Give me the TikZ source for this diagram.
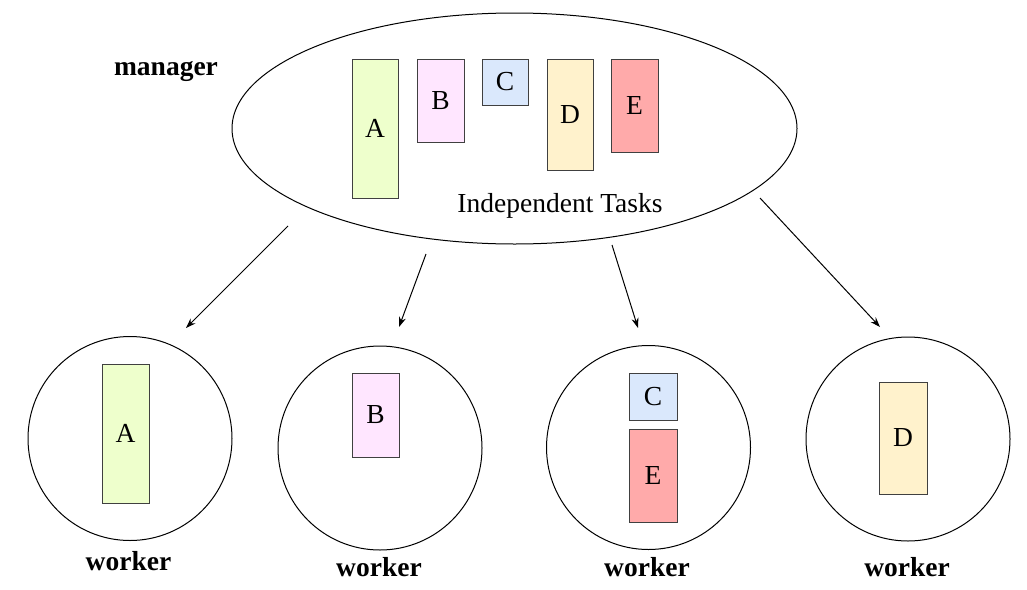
\documentclass[tikz,border=0pt]{standalone}
\usepackage{fontspec}
\setmainfont{Liberation Serif}
\usetikzlibrary{arrows.meta,shapes.geometric}
\definecolor{cA}{HTML}{EEFFCC}
\definecolor{cB}{HTML}{FFE6FF}
\definecolor{cC}{HTML}{DAE8FC}
\definecolor{cD}{HTML}{FFF2CC}
\definecolor{cE}{HTML}{FFAAAA}
\begin{document}
\begin{tikzpicture}[x=1pt,y=-1pt,
  task/.style={draw=black!75,line width=1pt,inner sep=0pt,font=\fontsize{27.5}{30}\selectfont},
  proc/.style={draw,line width=1pt,circle,inner sep=0pt,minimum size=204pt},
  lbl/.style={font=\bfseries\fontsize{27.5}{30}\selectfont,inner sep=0pt,anchor=base},
  arr/.style={line width=1pt,-{Stealth[length=10pt,width=7pt]}}]
\useasboundingbox (0,0) rectangle (1027,589);
% manager
\node[draw,line width=1pt,ellipse,minimum width=565pt,minimum height=231pt,inner sep=0pt] (mgr) at (514.5,128.5) {};
\node[lbl] (mlbl) at (166,75) {manager};
\node[task,fill=cA,minimum width=46pt,minimum height=139pt] (tA) at (375,128.5) {A};
\node[task,fill=cB,minimum width=47pt,minimum height=83pt] (tB) at (440.5,100.5) {B};
\node[task,fill=cC,minimum width=46pt,minimum height=46pt] (tC) at (505,82) {C};
\node[task,fill=cD,minimum width=46pt,minimum height=111pt] (tD) at (570,114.5) {D};
\node[task,fill=cE,minimum width=47pt,minimum height=93pt] (tE) at (634.5,105.5) {E};
\node[inner sep=0pt,anchor=base,font=\fontsize{27.5}{30}\selectfont] (ind) at (560,212) {Independent Tasks};
% workers
\node[proc] (w1) at (130,438.5) {};
\node[proc] (w2) at (380,448) {};
\node[proc] (w3) at (648.5,447.5) {};
\node[proc] (w4) at (908,439) {};
\node[task,fill=cA,minimum width=47pt,minimum height=139pt] (wA) at (125.5,433.5) {A};
\node[task,fill=cB,minimum width=47pt,minimum height=84pt] (wB) at (375.5,415) {B};
\node[task,fill=cC,minimum width=48pt,minimum height=47pt] (wC) at (653,396.5) {C};
\node[task,fill=cE,minimum width=48pt,minimum height=93pt] (wE) at (653,475.5) {E};
\node[task,fill=cD,minimum width=48pt,minimum height=112pt] (wD) at (903,438) {D};
\node[lbl] (l1) at (128.5,570.5) {worker};
\node[lbl] (l2) at (379,576) {worker};
\node[lbl] (l3) at (647,576) {worker};
\node[lbl] (l4) at (907,576) {worker};
% arrows
\coordinate (s1) at (288,226); \coordinate (e1) at (186,328);
\coordinate (s2) at (426,254); \coordinate (e2) at (399,327);
\coordinate (s3) at (612,245); \coordinate (e3) at (638,328);
\coordinate (s4) at (760,198); \coordinate (e4) at (880,327);
\draw[arr] (s1) -- (e1);
\draw[arr] (s2) -- (e2);
\draw[arr] (s3) -- (e3);
\draw[arr] (s4) -- (e4);
\end{tikzpicture}
\end{document}
